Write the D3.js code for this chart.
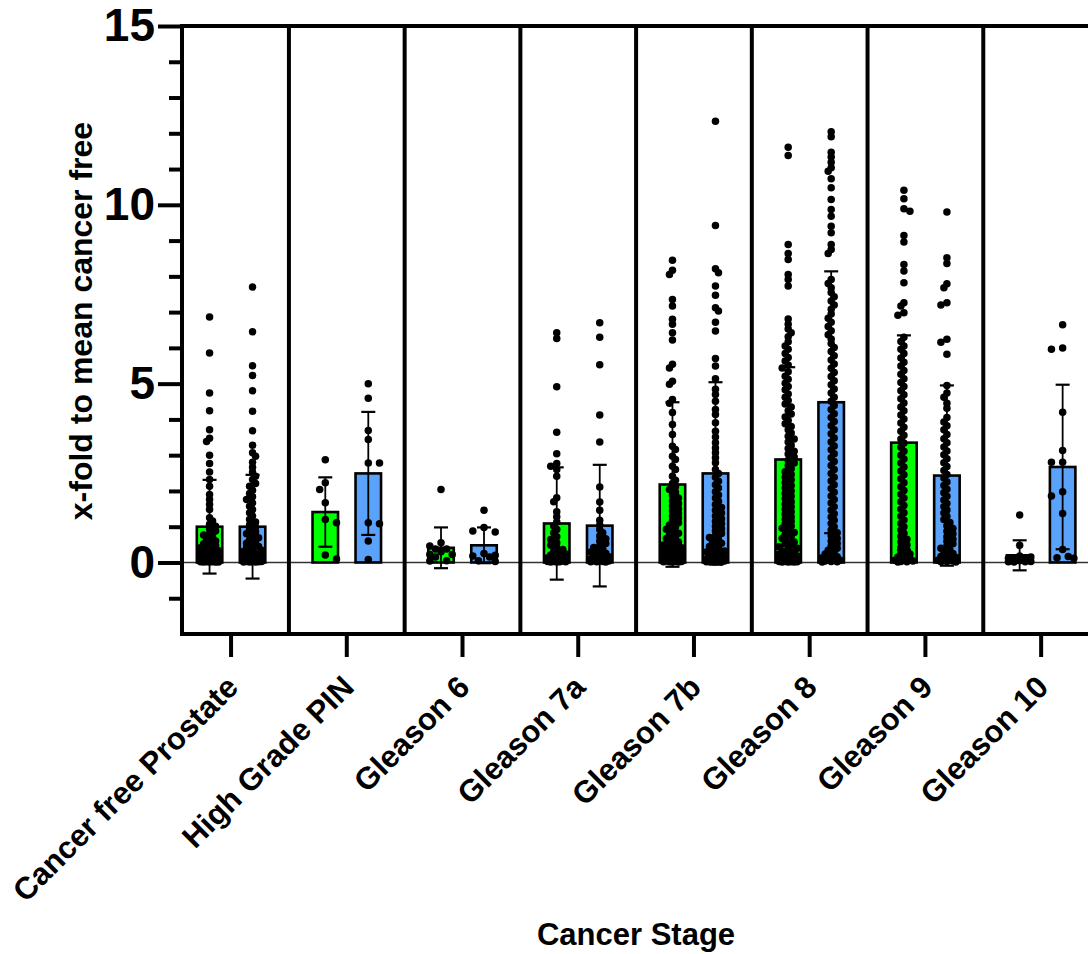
<!DOCTYPE html>
<html><head><meta charset="utf-8">
<script src="https://cdn.jsdelivr.net/npm/d3@7"></script>
<style>html,body{margin:0;padding:0;background:#fff;} svg{display:block;}</style>
</head><body>
<svg id="chart" width="1088" height="954"></svg>
<script>
// ---------------- DATA ----------------
const categories = ["Cancer free Prostate","High Grade PIN","Gleason 6","Gleason 7a","Gleason 7b","Gleason 8","Gleason 9","Gleason 10"];
const seriesNames = ["green","blue"];
const greenMeans = [1.00, 1.41, 0.41, 1.09, 2.18, 2.88, 3.35, 0.20];
const greenSD    = [1.31, 0.97, 0.57, 1.57, 2.30, 2.58, 3.00, 0.42];
const blueMeans  = [1.00, 2.49, 0.48, 1.03, 2.49, 4.48, 2.43, 2.67];
const blueSD     = [1.45, 1.72, 0.50, 1.70, 2.55, 3.66, 2.52, 2.30];
const yMajorTicks = [0, 5, 10, 15];
const yMinorTicks = [-1, 1, 2, 3, 4, 6, 7, 8, 9, 11, 12, 13, 14];
const xTitle = "Cancer Stage";
const yTitle = "x-fold to mean cancer free";

// individual points (read / estimated from the picture)
const cfGreen = [6.86,5.86,4.74,4.24,3.71,3.47,3.38,3.00,2.77,2.53,2.32,2.13,1.90,1.76,1.62,1.48,1.25,1.16,1.07,1.01,0.94,0.88,0.80,0.77,0.71,0.64,0.60,0.55,0.52,0.47,0.43,0.41,0.37,0.33,0.30,0.28,0.25,0.22,0.21,0.18,0.16,0.15,0.13,0.11,0.10,0.09,0.08,0.07,0.06,0.06,0.05,0.04,0.04,0.03,0.03,0.02,0.02,0.02,0.01,0.01,0.01,0.01];
const cfBlue = [7.70,6.45,5.50,5.23,4.80,4.23,3.68,3.28,3.07,2.97,2.80,2.66,2.53,2.41,2.32,2.21,2.13,2.02,1.93,1.84,1.76,1.66,1.57,1.48,1.39,1.30,1.20,1.13,1.05,0.99,0.92,0.86,0.80,0.74,0.69,0.63,0.58,0.54,0.49,0.45,0.41,0.38,0.34,0.31,0.28,0.25,0.23,0.20,0.18,0.16,0.14,0.12,0.11,0.09,0.08,0.07,0.06,0.05,0.05,0.04,0.03,0.03,0.02,0.02,0.01,0.01,0.01];
const hgGreen = [2.87,2.23,2.04,1.67,1.20,1.11,0.21,0.10];
const hgBlue = [5.00,4.59,3.69,3.44,2.78,2.78,1.11,1.08,0.60,0.08];
const g6Green = [2.04,0.55,0.46,0.38,0.38,0.30,0.22,0.22,0.15,0.05,0.04];
const g6Blue = [1.46,0.98,0.88,0.85,0.25,0.20,0.18,0.15,0.05,0.03];
const g7aGreen = [6.42,6.26,4.91,3.64,3.04,2.77,2.69,2.60,2.41,1.81,1.70,1.42,1.28,1.13,1.02,0.92,0.83,0.72,0.64,0.55,0.48,0.41,0.36,0.31,0.27,0.24,0.21,0.18,0.15,0.13,0.11,0.09,0.08,0.06,0.05,0.04,0.03,0.03,0.02,0.02,0.01,0.01];
const g7aBlue = [6.70,6.30,5.53,4.12,3.37,2.11,1.69,1.46,1.18,1.05,0.92,0.83,0.74,0.66,0.60,0.53,0.47,0.42,0.37,0.33,0.29,0.26,0.22,0.19,0.16,0.14,0.12,0.10,0.08,0.07,0.05,0.04,0.03,0.02,0.02,0.01];
const g7bGreen = [8.45,8.17,8.05,7.35,7.17,6.80,6.66,6.42,6.22,5.54,5.44,5.07,4.98,4.56,4.45,4.19,3.86,3.58,3.25,3.16,2.97,2.88,2.69,2.60,2.41,2.30,2.21,2.12,2.04,1.96,1.87,1.80,1.72,1.65,1.58,1.50,1.44,1.37,1.30,1.24,1.17,1.11,1.05,0.99,0.93,0.88,0.82,0.77,0.72,0.67,0.62,0.57,0.53,0.49,0.45,0.41,0.37,0.34,0.30,0.27,0.24,0.21,0.19,0.16,0.14,0.12,0.10,0.09,0.07,0.06,0.05,0.04,0.03,0.03,0.02,0.02,0.01,0.01];
const g7bBlue = [12.34,9.42,8.21,8.10,7.73,7.47,7.12,7.03,6.72,6.47,5.70,5.49,5.14,4.84,4.70,4.51,4.28,4.14,3.91,3.67,3.51,3.35,3.20,3.07,2.93,2.79,2.60,2.49,2.38,2.27,2.17,2.08,1.98,1.89,1.80,1.71,1.62,1.54,1.46,1.38,1.30,1.22,1.15,1.08,1.01,0.94,0.88,0.81,0.75,0.70,0.64,0.59,0.54,0.49,0.45,0.40,0.36,0.32,0.29,0.25,0.22,0.19,0.17,0.14,0.12,0.10,0.08,0.07,0.05,0.04,0.03,0.02,0.02,0.01,0.01];
const g8Green = [11.61,11.38,8.89,8.64,8.47,8.05,7.91,7.73,6.81,6.66,6.53,6.42,6.31,6.17,6.05,5.96,5.84,5.73,5.63,5.52,5.44,5.33,5.21,5.12,5.01,4.92,4.83,4.71,4.62,4.53,4.43,4.35,4.24,4.15,4.07,3.97,3.88,3.80,3.71,3.62,3.53,3.45,3.37,3.28,3.19,3.11,3.03,2.95,2.86,2.78,2.71,2.62,2.54,2.46,2.38,2.31,2.23,2.15,2.08,2.00,1.93,1.85,1.78,1.70,1.63,1.56,1.49,1.42,1.35,1.28,1.21,1.15,1.08,1.02,0.96,0.90,0.84,0.78,0.73,0.67,0.62,0.57,0.52,0.48,0.44,0.40,0.36,0.32,0.29,0.26,0.23,0.20,0.18,0.16,0.14,0.12,0.10,0.09,0.08,0.06,0.05,0.05,0.04,0.03,0.03,0.02,0.02,0.01,0.01,0.01];
const g8Blue = [12.04,11.90,11.47,11.34,11.19,11.04,10.94,10.73,10.48,10.15,9.87,9.68,9.40,9.22,8.89,8.75,8.64,7.91,7.80,7.68,7.55,7.43,7.31,7.20,7.08,6.95,6.83,6.72,6.60,6.48,6.37,6.25,6.12,6.01,5.90,5.78,5.66,5.55,5.43,5.31,5.20,5.08,4.97,4.85,4.74,4.62,4.51,4.39,4.28,4.16,4.05,3.94,3.82,3.71,3.60,3.48,3.37,3.26,3.15,3.04,2.93,2.82,2.71,2.60,2.49,2.38,2.28,2.17,2.07,1.96,1.86,1.76,1.66,1.56,1.46,1.36,1.27,1.18,1.09,1.00,0.91,0.83,0.75,0.67,0.60,0.53,0.46,0.40,0.34,0.29,0.24,0.20,0.16,0.13,0.10,0.08,0.06,0.04,0.03,0.02,0.01];
const g9Green = [10.41,10.17,9.89,9.82,9.14,8.96,8.33,8.15,7.82,7.26,7.17,6.98,6.91,6.30,6.18,6.05,5.96,5.84,5.72,5.60,5.49,5.37,5.26,5.14,5.03,4.92,4.80,4.69,4.58,4.46,4.35,4.24,4.12,4.01,3.90,3.78,3.67,3.56,3.45,3.34,3.22,3.11,3.00,2.89,2.78,2.67,2.56,2.45,2.34,2.23,2.12,2.01,1.91,1.80,1.70,1.59,1.49,1.39,1.29,1.19,1.09,1.00,0.91,0.82,0.73,0.65,0.57,0.49,0.42,0.35,0.29,0.24,0.19,0.15,0.11,0.08,0.06,0.04,0.03,0.02,0.01];
const g9Blue = [9.80,8.52,8.36,7.79,7.68,7.26,7.20,6.24,6.16,5.82,4.95,4.74,4.62,4.45,4.31,4.05,3.93,3.82,3.71,3.58,3.46,3.35,3.23,3.12,3.01,2.90,2.79,2.68,2.57,2.46,2.36,2.25,2.15,2.05,1.95,1.85,1.75,1.65,1.56,1.47,1.38,1.29,1.20,1.12,1.03,0.95,0.87,0.80,0.72,0.65,0.59,0.52,0.46,0.40,0.35,0.30,0.25,0.21,0.17,0.14,0.11,0.08,0.06,0.04,0.03,0.02,0.01];
const g10Green = [1.33,0.48,0.18,0.15,0.12,0.10,0.08,0.05,0.03,0.02,0.02,0.01];
const g10Blue = [6.65,6.00,5.96,4.20,3.13,2.80,2.80,1.98,1.86,1.37,0.36,0.17,0.13,0.12];

const greenPoints = [cfGreen, hgGreen, g6Green, g7aGreen, g7bGreen, g8Green, g9Green, g10Green];
const bluePoints  = [cfBlue, hgBlue, g6Blue, g7aBlue, g7bBlue, g8Blue, g9Blue, g10Blue];

// ---------------- DRAWING ----------------
const FONT = "'Liberation Sans', Arial, Helvetica, sans-serif";
const W = 1088, H = 954;
const plotLeft = 182, plotTop = 26, plotBottom = 634;
const colors = {green: "#00ff00", blue: "#5aa2fa"};

const svg = d3.select("#chart");
const y = d3.scaleLinear().domain([-2, 15]).range([plotBottom, plotTop]);
const x = d3.scaleBand().domain(categories).range([173.2, 1099]).padding(0);
const sub = d3.scalePoint().domain(seriesNames).range([-21.5, 21.5]);
const center = c => x(c) + x.bandwidth() / 2;
const barW = 25.5;

// zero line
svg.append("line")
  .attr("x1", plotLeft).attr("x2", W)
  .attr("y1", y(0)).attr("y2", y(0))
  .attr("stroke", "#333").attr("stroke-width", 1.6);

const groups = categories.map((c, i) => ({
  cat: c, i,
  series: [
    {name: "green", mean: greenMeans[i], sd: greenSD[i], pts: greenPoints[i]},
    {name: "blue",  mean: blueMeans[i],  sd: blueSD[i],  pts: bluePoints[i]}
  ]
}));

// bars
groups.forEach(g => {
  g.series.forEach(s => {
    const cx = center(g.cat) + sub(s.name);
    svg.append("rect")
      .attr("x", cx - barW / 2).attr("width", barW)
      .attr("y", y(s.mean)).attr("height", y(0) - y(s.mean))
      .attr("fill", colors[s.name]).attr("stroke", "#000").attr("stroke-width", 2.6);
  });
});

// beeswarm layout (deterministic)
function swarm(values, cx) {
  const sparse = values.length < 20;
  const placed = [];
  const dmin = sparse ? 7.5 : 4.4, step = sparse ? 5.6 : 3.0, maxOff = sparse ? 11.2 : 10.5;
  const offs = [0];
  for (let k = 1; k * step <= maxOff + 0.01; k++) offs.push(-k * step, k * step);
  values.forEach((v, idx) => {
    const cy = y(v);
    let best = 0, bestScore = -1;
    // alternate preferred side to keep the swarm balanced
    const order = idx % 2 ? offs.map(o => -o) : offs;
    for (const o of order) {
      let minD = Infinity;
      for (const p of placed) {
        const d = Math.hypot(p.dx - o, p.y - cy);
        if (d < minD) minD = d;
      }
      if (minD >= dmin) { best = o; bestScore = Infinity; break; }
      if (minD > bestScore) { bestScore = minD; best = o; }
    }
    placed.push({dx: best, y: cy});
  });
  return placed.map(p => ({x: cx + p.dx, y: p.y}));
}

groups.forEach(g => {
  g.series.forEach(s => {
    const cx = center(g.cat) + sub(s.name);
    const pts = swarm(s.pts, cx);
    svg.append("g").selectAll("circle").data(pts).join("circle")
      .attr("cx", d => d.x).attr("cy", d => d.y).attr("r", 3.75)
      .attr("fill", "#000");
  });
});

// error bars
groups.forEach(g => {
  g.series.forEach(s => {
    const cx = center(g.cat) + sub(s.name);
    const top = y(s.mean + s.sd), bot = y(s.mean - s.sd);
    const eg = svg.append("g").attr("stroke", "#000");
    eg.append("line").attr("x1", cx).attr("x2", cx).attr("y1", top).attr("y2", bot).attr("stroke-width", 1.8);
    eg.append("line").attr("x1", cx - 7).attr("x2", cx + 7).attr("y1", top).attr("y2", top).attr("stroke-width", 2.2);
    eg.append("line").attr("x1", cx - 7).attr("x2", cx + 7).attr("y1", bot).attr("y2", bot).attr("stroke-width", 2.2);
  });
});

// group separators
categories.slice(1).forEach(c => {
  svg.append("line")
    .attr("x1", x(c)).attr("x2", x(c))
    .attr("y1", plotTop).attr("y2", plotBottom)
    .attr("stroke", "#000").attr("stroke-width", 4);
});

// frame lines
svg.append("line").attr("x1", plotLeft).attr("x2", plotLeft).attr("y1", plotTop - 2).attr("y2", plotBottom + 2)
  .attr("stroke", "#000").attr("stroke-width", 4);
svg.append("line").attr("x1", plotLeft - 2).attr("x2", W).attr("y1", plotTop).attr("y2", plotTop)
  .attr("stroke", "#000").attr("stroke-width", 4);
svg.append("line").attr("x1", plotLeft - 2).attr("x2", W).attr("y1", plotBottom).attr("y2", plotBottom)
  .attr("stroke", "#000").attr("stroke-width", 4);

// y axis: major ticks + labels
const yMajor = svg.append("g").attr("transform", `translate(${plotLeft},0)`)
  .call(d3.axisLeft(y).tickValues(yMajorTicks).tickSize(24).tickPadding(3).tickSizeOuter(0));
yMajor.select(".domain").remove();
yMajor.selectAll(".tick line").attr("stroke", "#000").attr("stroke-width", 4);
yMajor.selectAll(".tick text").attr("font-family", FONT).attr("font-weight", "bold")
  .attr("font-size", 46).attr("fill", "#000");

// y axis: minor ticks
const yMinor = svg.append("g").attr("transform", `translate(${plotLeft},0)`)
  .call(d3.axisLeft(y).tickValues(yMinorTicks).tickSize(13).tickFormat("").tickSizeOuter(0));
yMinor.select(".domain").remove();
yMinor.selectAll(".tick line").attr("stroke", "#000").attr("stroke-width", 4);

// x axis
const xAxis = svg.append("g").attr("transform", `translate(0,${plotBottom})`)
  .call(d3.axisBottom(x).tickSize(23).tickSizeOuter(0));
xAxis.select(".domain").remove();
xAxis.selectAll(".tick line").attr("stroke", "#000").attr("stroke-width", 4);
xAxis.selectAll(".tick text")
  .attr("x", 0).attr("y", 0).attr("dy", 0)
  .attr("transform", "translate(9,55) rotate(-45)")
  .attr("text-anchor", "end")
  .attr("font-family", FONT).attr("font-weight", "bold").attr("font-size", 31).attr("fill", "#000");

// titles
svg.append("text").attr("x", 636).attr("y", 945).attr("text-anchor", "middle")
  .attr("font-family", FONT).attr("font-weight", "bold").attr("font-size", 31).text(xTitle);
svg.append("text").attr("transform", "translate(92,321) rotate(-90)").attr("text-anchor", "middle")
  .attr("font-family", FONT).attr("font-weight", "bold").attr("font-size", 32).text(yTitle);
</script>
</body></html>
